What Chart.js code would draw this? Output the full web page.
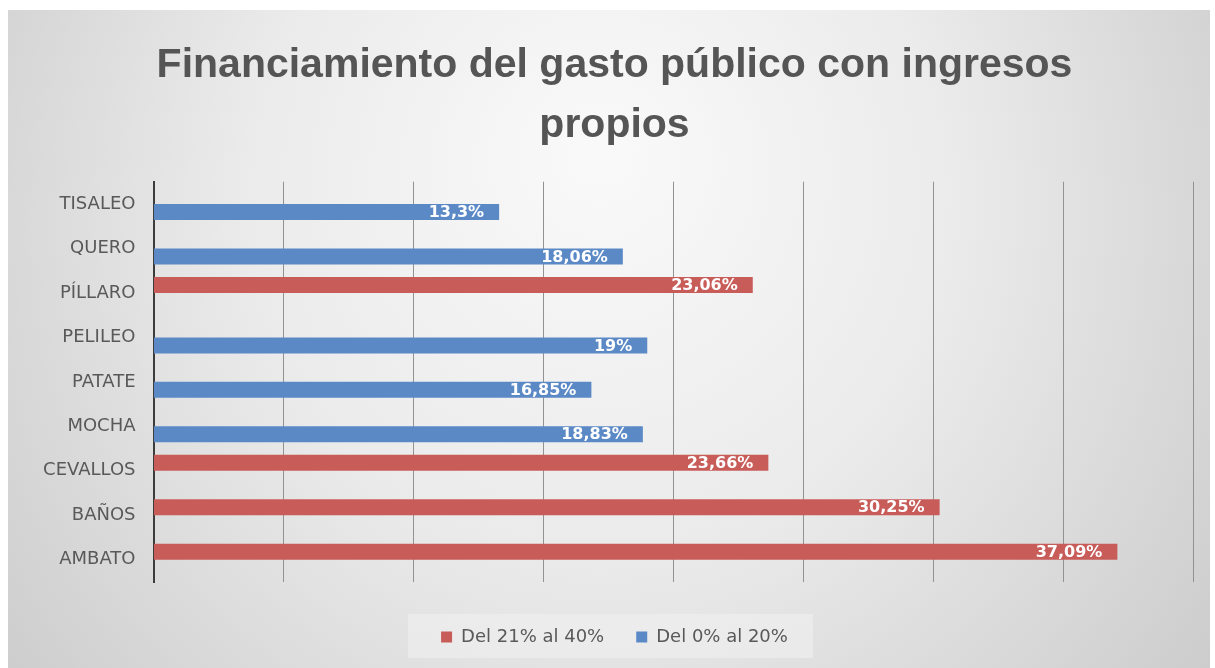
<!DOCTYPE html>
<html>
<head>
<meta charset="utf-8">
<script src="https://cdn.jsdelivr.net/npm/chart.js@4.4.1/dist/chart.umd.min.js"></script>
<style>
  html, body { margin: 0; padding: 0; background: #ffffff; }
  #wrap { position: relative; width: 1215px; height: 668px; }
</style>
</head>
<body>
<div id="wrap"><canvas id="c" width="1215" height="668"></canvas></div>
<script>
const categories = ['TISALEO', 'QUERO', 'PÍLLARO', 'PELILEO', 'PATATE', 'MOCHA', 'CEVALLOS', 'BAÑOS', 'AMBATO'];
const seriesNames = ['Del 21% al 40%', 'Del 0% al 20%'];
const valuesHigh = [null, null, 23.06, null, null, null, 23.66, 30.25, 37.09];
const valuesLow = [13.3, 18.06, null, 19, 16.85, 18.83, null, null, null];
const xTicks = [0, 5, 10, 15, 20, 25, 30, 35, 40];
const titleLines = ['Financiamiento del gasto público con ingresos', 'propios'];

function fmt(v) {
  return String(v).replace('.', ',') + '%';
}

const bgPlugin = {
  id: 'bg',
  beforeDraw(chart) {
    const ctx = chart.ctx;
    ctx.save();
    ctx.fillStyle = '#ffffff';
    ctx.fillRect(0, 0, chart.width, chart.height);
    const g = ctx.createRadialGradient(600, 150, 20, 600, 250, 760);
    g.addColorStop(0, '#f9f9f9');
    g.addColorStop(0.45, '#ebebeb');
    g.addColorStop(1, '#cbcbcb');
    ctx.fillStyle = g;
    ctx.fillRect(8, 10, 1202, 670);
    const lg = chart.legend;
    if (lg && lg.legendHitBoxes && lg.legendHitBoxes.length) {
      let minX = Infinity, maxX = -Infinity, minY = Infinity, maxY = -Infinity;
      lg.legendHitBoxes.forEach(b => {
        minX = Math.min(minX, b.left); maxX = Math.max(maxX, b.left + b.width);
        minY = Math.min(minY, b.top); maxY = Math.max(maxY, b.top + b.height);
      });
      ctx.fillStyle = 'rgba(240,240,240,0.6)';
      ctx.fillRect(minX - 33, minY - 14, (maxX - minX) + 58, (maxY - minY) + 26);
    }
    ctx.restore();
  }
};

const labelPlugin = {
  id: 'barLabels',
  afterDatasetsDraw(chart) {
    const ctx = chart.ctx;
    ctx.save();
    ctx.font = 'bold 16px "DejaVu Sans"';
    ctx.fillStyle = '#ffffff';
    ctx.textAlign = 'right';
    ctx.textBaseline = 'middle';
    chart.data.datasets.forEach((ds, di) => {
      const meta = chart.getDatasetMeta(di);
      meta.data.forEach((bar, i) => {
        const v = ds.data[i];
        if (v === null || v === undefined) return;
        ctx.fillText(fmt(v), bar.x - 15, bar.y + 1);
      });
    });
    ctx.restore();
  }
};

new Chart(document.getElementById('c'), {
  type: 'bar',
  data: {
    labels: categories,
    datasets: [
      { label: seriesNames[0], data: valuesHigh, backgroundColor: '#c85c59', borderWidth: 0 },
      { label: seriesNames[1], data: valuesLow, backgroundColor: '#5b89c6', borderWidth: 0 }
    ]
  },
  options: {
    indexAxis: 'y',
    responsive: false,
    animation: false,
    categoryPercentage: 0.72,
    barPercentage: 1.0,
    layout: { padding: { left: 36, right: 22, top: 0, bottom: 12 } },
    plugins: {
      tooltip: { enabled: false },
      title: {
        display: true,
        text: titleLines,
        color: '#555555',
        font: { family: '"Liberation Sans", sans-serif', weight: 'bold', size: 41, lineHeight: 1.46 },
        padding: { top: 36, bottom: 26 }
      },
      legend: {
        position: 'bottom',
        labels: {
          color: '#595959',
          font: { family: '"DejaVu Sans"', size: 18 },
          boxWidth: 11,
          boxHeight: 11,
          padding: 32
        }
      }
    },
    scales: {
      x: {
        min: 0,
        max: 40,
        afterBuildTicks(scale) { scale.ticks = xTicks.map(v => ({ value: v })); },
        afterFit(scale) { scale.height = 14; },
        ticks: { display: false },
        grid: { color: '#929292', lineWidth: 1, drawTicks: false },
        border: { display: false }
      },
      y: {
        afterFit(scale) { scale.width = 117.5; },
        ticks: {
          color: '#595959',
          font: { family: '"DejaVu Sans"', size: 18 },
          padding: 18
        },
        grid: { display: false, drawTicks: false },
        border: { display: true, color: '#3c3c3c', width: 2 }
      }
    }
  },
  plugins: [bgPlugin, labelPlugin]
});
</script>
</body>
</html>
